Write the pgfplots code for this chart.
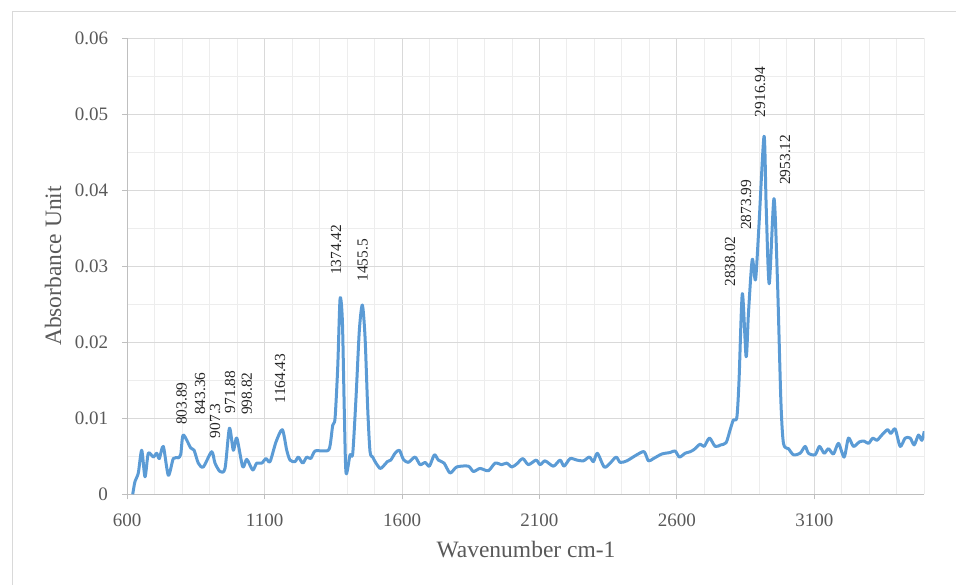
\documentclass[border=0pt]{standalone}
\usepackage{pgfplots}
\pgfplotsset{compat=1.18}
\usepackage{pgfplotstable}
\usepackage{fontspec}
\setmainfont{Liberation Serif}
\definecolor{specblue}{HTML}{5B9BD5}
\definecolor{majgrid}{HTML}{D9D9D9}
\definecolor{mingrid}{HTML}{EDEDED}
\definecolor{axgray}{HTML}{BFBFBF}
\definecolor{labgray}{HTML}{595959}
\definecolor{peakgray}{HTML}{262626}
\definecolor{framegray}{HTML}{D9D9D9}
\tikzset{peak/.style={rotate=90, anchor=west, inner sep=0pt, font=\fontsize{15.4}{18}\selectfont, text=peakgray}}

\pgfplotstableread{
x y
620.0 0.0000
628.4 0.0017
640.4 0.0028
652.8 0.0058
664.8 0.0023
676.8 0.0054
695.0 0.0049
707.4 0.0054
716.8 0.0047
731.4 0.0063
749.6 0.0025
767.8 0.0047
786.0 0.0048
795.0 0.0053
803.9 0.0078
831.1 0.0061
843.4 0.0058
858.7 0.0041
876.9 0.0036
907.3 0.0056
919.5 0.0041
937.7 0.0030
955.9 0.0034
971.9 0.0087
986.1 0.0058
998.8 0.0074
1020.3 0.0036
1034.9 0.0046
1056.7 0.0032
1071.2 0.0041
1089.4 0.0041
1105.1 0.0047
1119.6 0.0043
1141.5 0.0069
1164.4 0.0085
1180.4 0.0058
1192.4 0.0045
1210.6 0.0043
1222.6 0.0049
1238.6 0.0041
1253.2 0.0049
1267.8 0.0047
1283.4 0.0057
1313.6 0.0057
1335.5 0.0060
1347.8 0.0091
1356.2 0.0100
1366.0 0.0168
1374.4 0.0257
1382.8 0.0229
1390.0 0.0107
1396.2 0.0028
1410.8 0.0052
1420.6 0.0054
1432.6 0.0128
1444.6 0.0216
1455.5 0.0249
1465.3 0.0207
1475.2 0.0111
1483.5 0.0056
1493.4 0.0049
1501.7 0.0043
1519.9 0.0034
1531.9 0.0037
1546.5 0.0043
1558.9 0.0045
1574.5 0.0054
1590.2 0.0058
1604.7 0.0046
1622.9 0.0042
1647.3 0.0049
1665.5 0.0039
1683.7 0.0042
1699.4 0.0037
1717.6 0.0052
1732.1 0.0045
1752.9 0.0041
1774.7 0.0028
1799.1 0.0036
1841.3 0.0037
1859.5 0.0030
1883.8 0.0034
1914.1 0.0031
1938.4 0.0041
1962.8 0.0039
1981.0 0.0041
1999.2 0.0036
2017.4 0.0040
2039.2 0.0047
2059.6 0.0039
2087.6 0.0045
2102.2 0.0039
2120.4 0.0044
2150.6 0.0037
2175.0 0.0045
2189.5 0.0037
2211.4 0.0047
2235.8 0.0045
2259.8 0.0044
2281.6 0.0049
2296.2 0.0043
2310.7 0.0054
2335.1 0.0036
2354.4 0.0040
2378.8 0.0049
2393.4 0.0042
2417.7 0.0044
2454.1 0.0052
2480.7 0.0056
2496.3 0.0044
2514.5 0.0047
2545.1 0.0053
2575.3 0.0055
2593.5 0.0057
2609.1 0.0049
2629.9 0.0054
2648.1 0.0056
2662.6 0.0059
2684.5 0.0066
2699.1 0.0063
2718.3 0.0074
2739.1 0.0063
2759.8 0.0065
2779.1 0.0068
2793.7 0.0085
2805.6 0.0098
2818.0 0.0101
2826.0 0.0150
2838.0 0.0264
2851.8 0.0181
2860.2 0.0238
2874.0 0.0309
2885.8 0.0282
2897.6 0.0348
2916.9 0.0471
2924.8 0.0378
2935.8 0.0277
2953.1 0.0389
2965.7 0.0282
2978.1 0.0124
2987.6 0.0067
3005.8 0.0060
3024.0 0.0052
3048.3 0.0054
3066.5 0.0063
3078.5 0.0054
3102.9 0.0052
3118.6 0.0063
3135.7 0.0054
3151.3 0.0060
3169.5 0.0053
3187.7 0.0067
3208.4 0.0049
3224.1 0.0074
3242.3 0.0063
3264.1 0.0069
3281.2 0.0070
3296.9 0.0067
3312.9 0.0074
3327.4 0.0071
3345.6 0.0078
3366.0 0.0085
3378.4 0.0080
3394.0 0.0086
3412.2 0.0063
3430.4 0.0074
3448.6 0.0074
3463.2 0.0065
3478.8 0.0078
3491.2 0.0071
3500.0 0.0083
}\spectrum

\begin{document}
\begin{tikzpicture}
\useasboundingbox (0pt,0pt) rectangle (956pt,585pt);
\draw[color=framegray, line width=1pt] (12pt,0pt) -- (12pt,573pt) -- (956pt,573pt);
\begin{axis}[
  at={(127.2pt,90.7pt)}, anchor=south west,
  scale only axis, width=797.1pt, height=456pt,
  xmin=600, xmax=3500, ymin=0, ymax=0.06,
  scaled y ticks=false, scaled x ticks=false,
  xtick={600,1100,1600,2100,2600,3100},
  xticklabels={600,1100,1600,2100,2600,3100},
  ytick={0,0.01,0.02,0.03,0.04,0.05,0.06},
  yticklabels={0,0.01,0.02,0.03,0.04,0.05,0.06},
  minor xtick={700,800,900,1000,1200,1300,1400,1500,1700,1800,1900,2000,2200,2300,2400,2500,2700,2800,2900,3000,3200,3300,3400,3500},
  minor ytick={0.005,0.015,0.025,0.035,0.045,0.055},
  grid=both,
  major grid style={color=majgrid, line width=1pt},
  minor grid style={color=mingrid, line width=1pt},
  axis x line*=bottom, axis y line*=left,
  axis line style={color=axgray, line width=1.2pt, -},
  tick style={color=axgray, line width=1pt},
  major tick length=5pt, minor tick length=0pt, tick align=outside,
  /pgf/number format/assume math mode=true,
  xticklabel style={font=\fontsize{19}{22}\selectfont, text=labgray, inner sep=0pt, anchor=north, yshift=-14pt},
  yticklabel style={font=\fontsize{19}{22}\selectfont, text=labgray, inner sep=0pt, anchor=east, xshift=-14pt},
]
\addplot[color=specblue, line width=3pt, smooth, tension=0.45, line join=round] table[x=x, y=y] {\spectrum};
\node[peak] at (axis cs:798.3,0.00912) {803.89};
\node[peak] at (axis cs:864.9,0.01043) {843.36};
\node[peak] at (axis cs:919.5,0.00737) {907.3};
\node[peak] at (axis cs:974.1,0.01066) {971.88};
\node[peak] at (axis cs:1034.9,0.01043) {998.82};
\node[peak] at (axis cs:1156.0,0.01197) {1164.43};
\node[peak] at (axis cs:1359.8,0.02886) {1374.42};
\node[peak] at (axis cs:1457.0,0.02797) {1455.5};
\node[peak] at (axis cs:2793.6,0.02732) {2838.02};
\node[peak] at (axis cs:2851.8,0.03478) {2873.99};
\node[peak] at (axis cs:2902.8,0.04961) {2916.94};
\node[peak] at (axis cs:2993.8,0.0407) {2953.12};
\end{axis}
\node[rotate=90, font=\fontsize{23.5}{27}\selectfont, text=labgray] at (53pt,319pt) {Absorbance Unit};
\node[font=\fontsize{23.5}{27}\selectfont, text=labgray] at (526pt,35pt) {Wavenumber cm-1};
\end{tikzpicture}
\end{document}
